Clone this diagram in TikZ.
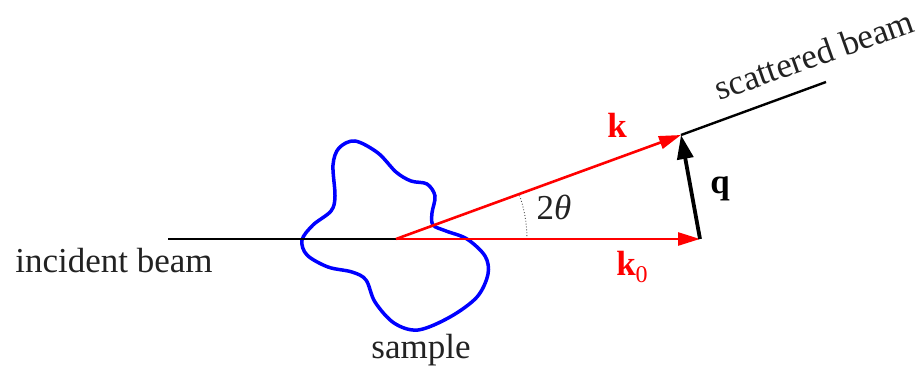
\documentclass[tikz,border=0pt]{standalone}
\usepackage{fontspec}
\setmainfont{Liberation Serif}
\usetikzlibrary{arrows.meta}
\definecolor{txt}{HTML}{222222}
\tikzset{
  lbl/.style={inner sep=0pt, text=txt, font=\fontsize{35}{40}\selectfont},
  redvec/.style={draw=red, line width=2.6pt, -{Triangle[length=22pt,width=13pt]}},
  blackvec/.style={draw=black, line width=3.8pt, -{Triangle[length=24pt,width=16pt]}},
  beam/.style={draw=black, line width=2.4pt},
  blob/.style={draw=blue, line width=3.5pt},
}
\begin{document}
\begin{tikzpicture}[x=1pt,y=-1pt]
\useasboundingbox (0,0) rectangle (924,369);
\coordinate (I) at (168,239);
\coordinate (O) at (396,239);
\coordinate (K0) at (700,239);
\coordinate (K) at (681,135);
\coordinate (S) at (826,82);
% sample blob
\draw[blob] plot[smooth cycle, tension=0.55] coordinates {
 (355,141) (378,153) (396,172) (411,181) (427,184) (435,196) (432,213) (433,225)
 (446,231) (467,239) (485,256) (488,274) (477,297) (450,317) (418,330) (394,323)
 (375,302) (366,280) (352,272) (328,267) (307,255) (302,240) (313,225) (331,211)
 (335,196) (333,165) (339,148)};
\draw[beam] (I) -- (O);
\draw[beam] (K) -- (S);
\draw[black!70, dotted, line width=0.9pt] (527,239) arc[start angle=0, end angle=-20, radius=131];
\draw[redvec] (O) -- (K0);
\draw[redvec] (O) -- (K);
\draw[blackvec] (K0) -- (K);
\node[lbl, anchor=base] (tinc) at (114,272) {incident beam};
\node[lbl, anchor=base] (tsam) at (421,358) {sample};
\node[lbl, anchor=base, rotate=19.5] (tsca) at (818,66) {scattered beam};
\node[lbl, anchor=base, text=red] (tk) at (617,137) {\textbf{k}};
\node[lbl, anchor=base, text=black] (tq) at (720,193) {\textbf{q}};
\node[lbl, anchor=base] (tth) at (554,219) {2\textit{θ}};
\node[lbl, anchor=base, text=red] (tk0) at (632,275) {\textbf{k}\raisebox{-0.22em}{\fontsize{24}{28}\selectfont 0}};
\end{tikzpicture}
\end{document}
